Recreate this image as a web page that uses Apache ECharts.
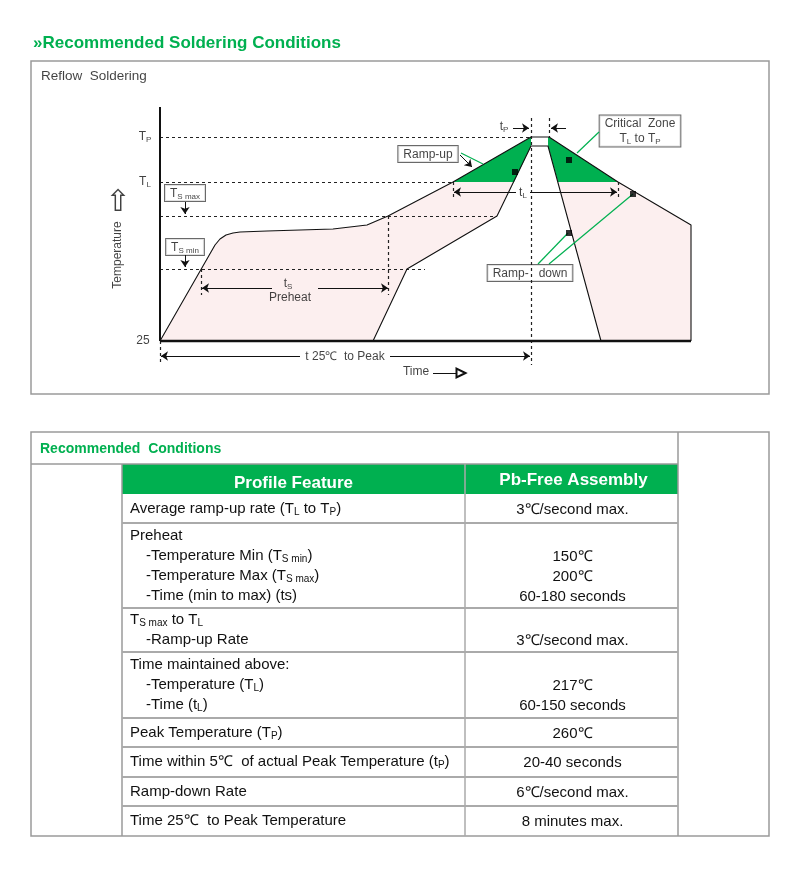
<!DOCTYPE html>
<html>
<head>
<meta charset="utf-8">
<script src="https://cdn.jsdelivr.net/npm/echarts@6/dist/echarts.min.js"></script>
<style>
html, body { margin: 0; padding: 0; background: #fff; }
#main { width: 800px; height: 888px; }
</style>
</head>
<body>
<div id="main"></div>
<script>
var GREEN = '#00b050';
var PINK = '#fcefef';
var SANS = '"Liberation Sans", Arial, sans-serif';
var NARROW = '"Liberation Sans Narrow", "Liberation Sans", Arial, sans-serif';

// schematic units: x ~ time from start, y ~ temperature above 25 (not to scale)
var outerProfile = [[0, 0], [55, 96], [60, 102], [66, 106], [73, 108], [80, 109], [107, 110], [173, 112], [207, 116], [228, 125], [293, 159], [371, 204], [389, 204], [458, 159], [531, 116], [531, 0]];
var innerProfile = [[213, 0], [247, 72], [337, 125], [371, 195], [388, 195], [441, 0]];
var zoneLeft = [[293, 159], [371, 204], [371, 195], [354, 159]];
var zoneRight = [[388, 204], [389, 204], [458, 159], [398, 159], [388, 195]];
var peakGap = [[371, 204], [389, 204], [388, 195], [371, 195]];
var baseLine = [[0, 0], [531, 0]];
var tempAxis = [[0, 0], [0, 234]];

// TP, TL, Ts max, Ts min
var levelLines = [[[0, 204], [371, 204]], [[0, 159], [293, 159]], [[0, 125], [337, 125]], [[0, 72], [265, 72]]];
var tickLines = [[[0, 0], [0, -24]], [[41, 72], [41, 46]], [[228, 125], [228, 46]], [[293, 159], [293, 141]],
    [[458, 159], [458, 144]], [[371, 223], [371, -24]], [[389, 223], [389, 204]]];
var dimArrows = [[[112, 53], [42, 53]], [[158, 53], [228, 53]], [[140, -15], [1, -15]], [[230, -15], [370, -15]],
    [[356, 149], [294, 149]], [[370, 149], [457, 149]], [[353, 213], [369, 213]], [[406, 213], [391, 213]],
    [[25, 139], [25, 127]], [[25, 86], [25, 74]], [[300, 186], [312, 174]]];
var leaderLines = [[[301, 188], [323, 177]], [[439, 209], [417, 188]], [[378, 77], [408, 108]], [[389, 77], [473, 147]]];
var markerPoints = [[355, 169], [409, 181], [473, 147], [409, 108]];
var timeArrow = [[[273, -32], [301, -32]]];

var textNotes = [
    [-15, 204, 'T{s|P}'], [-15, 159, 'T{s|L}'], [-17, 0, '25'],
    [128, 57, 't{s|S}'], [130, 43, 'Preheat'], [185, -16, 't 25℃  to Peak'],
    [363, 148, 't{s|L}'], [344, 214, 't{s|P}'], [256, -31, 'Time']
];
var boxNotes = [
    [25, 148, 'T{s|S max}'], [25, 94, 'T{s|S min}'], [268, 187, 'Ramp-up'],
    [370, 68, 'Ramp-   down'], [480, 210, 'Critical  Zone\nT{s|L} to T{s|P}']
];

var tableHeader = ['Profile Feature', 'Pb-Free Assembly'];
var featureRows = [
    ['Average ramp-up rate (T{s|L} to T{s|P})'],
    ['Preheat', '-Temperature Min (T{s|S min})', '-Temperature Max (T{s|S max})', '-Time (min to max) (ts)'],
    ['T{s|S max} to T{s|L}', '-Ramp-up Rate'],
    ['Time maintained above:', '-Temperature (T{s|L})', '-Time (t{s|L})'],
    ['Peak Temperature (T{s|P})'],
    ['Time within 5℃  of actual Peak Temperature (t{s|P})'],
    ['Ramp-down Rate'],
    ['Time 25℃  to Peak Temperature']
];
var valueRows = [
    ['3℃/second max.'],
    ['', '150℃', '200℃', '60-180 seconds'],
    ['', '3℃/second max.'],
    ['', '217℃', '60-150 seconds'],
    ['260℃'],
    ['20-40 seconds'],
    ['6℃/second max.'],
    ['8 minutes max.']
];

// table layout
var rowHeights = [29, 85, 44, 66, 29, 30, 29, 30];
var T = { x0: 31, x1: 769, y0: 432, head: 464, body: 494, left: 122, mid: 465, right: 678, bottom: 836 };

function polySeries(pts, color, z) {
    return {
        type: 'custom', coordinateSystem: 'cartesian2d', z: z, silent: true, data: pts,
        renderItem: function (params, api) {
            if (params.dataIndex !== 0) return null;
            return {
                type: 'polygon',
                shape: { points: pts.map(function (p) { return api.coord(p); }) },
                style: { fill: color }
            };
        }
    };
}

function pathSeries(pts, width, z) {
    return { type: 'line', data: pts, symbol: 'none', z: z, silent: true, lineStyle: { color: '#111', width: width } };
}

function segs(list) {
    return list.map(function (c) { return { coords: c }; });
}

var subRich = { s: { fontSize: 8, fontFamily: SANS, color: '#111', padding: [6, 0, 0, 0] } };

var series = [
    polySeries(outerProfile, PINK, 1),
    polySeries(innerProfile, '#fff', 2),
    polySeries(peakGap, '#fff', 2),
    polySeries(zoneLeft, GREEN, 3),
    polySeries(zoneRight, GREEN, 3),
    {
        type: 'scatter', z: 3.5, silent: true, symbolSize: 1, itemStyle: { color: 'rgba(0,0,0,0)' },
        data: boxNotes.map(function (n) { return { value: [n[0], n[1]], label: { formatter: n[2] } }; }),
        label: {
            show: true, position: 'inside', color: '#111', fontFamily: SANS, fontSize: 12, lineHeight: 15,
            backgroundColor: '#fff', borderColor: '#444', borderWidth: 1, padding: [1, 5, 0, 5], rich: subRich
        }
    },
    {
        type: 'lines', coordinateSystem: 'cartesian2d', z: 4, silent: true,
        data: segs(levelLines.concat(tickLines)),
        lineStyle: { color: '#222', width: 1.2, type: [3, 3], opacity: 1 }
    },
    pathSeries(outerProfile, 1.1, 5),
    pathSeries(innerProfile, 1.1, 5),
    pathSeries(baseLine, 2.5, 6),
    pathSeries(tempAxis, 2, 6),
    {
        type: 'lines', coordinateSystem: 'cartesian2d', z: 6, silent: true,
        data: segs(dimArrows), symbol: ['none', 'arrow'], symbolSize: [0, 7],
        lineStyle: { color: '#111', width: 1, opacity: 1 }
    },
    {
        type: 'lines', coordinateSystem: 'cartesian2d', z: 6, silent: true,
        data: segs(leaderLines), lineStyle: { color: GREEN, width: 1.2, opacity: 1 }
    },
    {
        type: 'lines', coordinateSystem: 'cartesian2d', z: 6, silent: true,
        data: segs(timeArrow), symbol: ['none', 'emptyTriangle'], symbolSize: [0, 9],
        lineStyle: { color: '#111', width: 1, opacity: 1 }
    },
    {
        type: 'scatter', z: 7, silent: true, symbol: 'rect', symbolSize: 6,
        itemStyle: { color: '#000' }, data: markerPoints
    },
    {
        type: 'scatter', z: 8, silent: true, symbolSize: 1, itemStyle: { color: 'rgba(0,0,0,0)' },
        data: textNotes.map(function (n) {
            return { value: [n[0], n[1]], label: { formatter: n[2] } };
        }).concat([
            { value: [-119, 265], label: { formatter: 'Reflow  Soldering', align: 'left', fontSize: 13.5 } },
            { value: [-42, 86], label: { formatter: 'Temperature', rotate: 90 } },
            { value: [-42, 138], label: { formatter: '⇧', fontSize: 30, fontFamily: '"DejaVu Sans"' } }
        ]),
        label: {
            show: true, position: 'inside', color: '#111', fontFamily: SANS, fontSize: 12,
            verticalAlign: 'middle', rich: subRich
        }
    }
];

// table graphics
var g = [];
function hline(x1, x2, y, color, w) {
    g.push({ type: 'line', shape: { x1: x1, y1: y, x2: x2, y2: y }, style: { stroke: color, lineWidth: w } });
}
function vline(x, y1, y2, color, w) {
    g.push({ type: 'line', shape: { x1: x, y1: y1, x2: x, y2: y2 }, style: { stroke: color, lineWidth: w } });
}
var tRich = { s: { fontSize: 10, fontFamily: NARROW, fill: '#111', padding: [7, 0, 0, 0] } };
function tText(x, y, text, align) {
    g.push({
        type: 'text', x: x, y: y,
        style: { text: text, fontFamily: NARROW, fontSize: 15, fill: '#111', align: align, verticalAlign: 'middle', rich: tRich }
    });
}

g.push({
    type: 'text', x: 33, y: 43,
    style: { text: '»Recommended Soldering Conditions', fontFamily: SANS, fontWeight: 'bold', fontSize: 17, fill: GREEN, verticalAlign: 'middle' }
});
g.push({ type: 'rect', shape: { x: T.left, y: T.head, width: T.right - T.left, height: T.body - T.head }, style: { fill: GREEN } });
g.push({
    type: 'text', x: (T.left + T.mid) / 2, y: 483,
    style: { text: tableHeader[0], fontFamily: NARROW, fontWeight: 'bold', fontSize: 17, fill: '#fff', align: 'center', verticalAlign: 'middle' }
});
g.push({
    type: 'text', x: (T.mid + T.right) / 2 + 2, y: 480,
    style: { text: tableHeader[1], fontFamily: NARROW, fontWeight: 'bold', fontSize: 17, fill: '#fff', align: 'center', verticalAlign: 'middle' }
});
g.push({
    type: 'text', x: 40, y: 449,
    style: { text: 'Recommended  Conditions', fontFamily: NARROW, fontWeight: 'bold', fontSize: 14, fill: GREEN, verticalAlign: 'middle' }
});

var frameC = '#9a9a9a';
g.push({ type: 'rect', shape: { x: T.x0, y: T.y0, width: T.x1 - T.x0, height: T.bottom - T.y0 }, style: { fill: 'none', stroke: frameC, lineWidth: 1.5 } });
hline(T.x0, T.right, T.head, frameC, 1.5);
vline(T.right, T.y0, T.bottom, frameC, 1.5);
vline(T.left, T.head, T.bottom, frameC, 1.5);
vline(T.mid, T.head, T.bottom, '#aaa', 1.5);

var rowTop = T.body;
for (var r = 0; r < featureRows.length; r++) {
    var h = rowHeights[r];
    var center = rowTop + h / 2;
    var n = featureRows[r].length;
    for (var i = 0; i < n; i++) {
        var ly = center + (i - (n - 1) / 2) * 20;
        var line = featureRows[r][i];
        var indent = line.charAt(0) === '-' ? 16 : 0;
        tText(130 + indent, ly, line, 'left');
        var v = valueRows[r][i];
        if (v) tText((T.mid + T.right) / 2 + 1, ly + 1, v, 'center');
    }
    rowTop += h;
    if (r < featureRows.length - 1) hline(T.left, T.right, rowTop, '#aaa', 2);
}

var chart = echarts.init(document.getElementById('main'));
chart.setOption({
    animation: false,
    backgroundColor: '#fff',
    grid: { left: 31, top: 61, width: 738, height: 333, show: true, borderColor: frameC, borderWidth: 1.5, backgroundColor: 'transparent' },
    xAxis: { type: 'value', min: -129, max: 609, show: false },
    yAxis: { type: 'value', min: -53, max: 280, show: false },
    series: series,
    graphic: { elements: g }
});
</script>
</body>
</html>
